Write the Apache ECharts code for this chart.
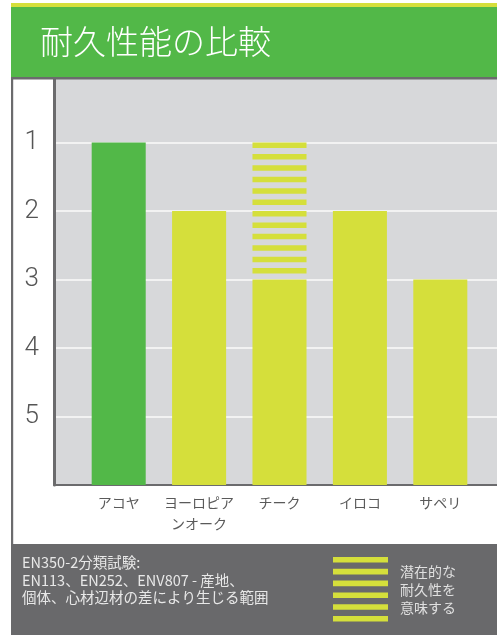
<!DOCTYPE html>
<html><head><meta charset="utf-8">
<script src="https://cdn.jsdelivr.net/npm/echarts/dist/echarts.min.js"></script>
<style>html,body{margin:0;padding:0;background:#fff}#c{width:497px;height:635px}</style>
</head><body><div id="c"></div>
<script>
// ---- data ----
const title = '耐久性能の比較';
const categories = ['アコヤ', 'ヨーロピア\nンオーク', 'チーク', 'イロコ', 'サペリ'];
const durability = [1, 2, 3, 2, 3];          // EN350-2 class (1 = best)
const potential = [null, null, 1, null, null]; // potential durability class
const yTickLabels = ['1', '2', '3', '4', '5'];
const footNote = 'EN350-2分類試験:\nEN113、EN252、ENV807 - 産地、\n個体、心材辺材の差により生じる範囲';
const legendText = '潜在的な\n耐久性を\n意味する';

// ---- style ----
const GREEN = '#52b848', YELLOW = '#d5df3b', PLOT_BG = '#d7d8da', FRAME = '#6b6b6d', FOOT = '#69696b';
const FONT = '"Noto Sans CJK JP", "Noto Sans", sans-serif';
const highlightIndex = 0;
const Y_MIN = 0, Y_MAX = 6;
const STRIPES_PER_CLASS = 6, STRIPE_FRAC = 0.48, BAR_FRAC = 0.672;

const chart = echarts.init(document.getElementById('c'), null, {renderer: 'canvas'});

function renderBar(params, api) {
  const i = api.value(0), v = api.value(1);
  const top = api.coord([i, v]);
  const base = api.coord([i, Y_MAX]);
  const w = api.size([1, 0])[0] * BAR_FRAC;
  return {type: 'rect', shape: {x: top[0] - w / 2, y: top[1], width: w, height: base[1] - top[1]},
          style: {fill: api.visual('color')}};
}
function renderStripes(params, api) {
  const i = api.value(0), from = api.value(1), to = api.value(2);
  const w = api.size([1, 0])[0] * BAR_FRAC;
  const children = [];
  const n = Math.round((to - from) * STRIPES_PER_CLASS);
  for (let k = 0; k < n; k++) {
    const a = api.coord([i, from + k / STRIPES_PER_CLASS]);
    const b = api.coord([i, from + (k + STRIPE_FRAC) / STRIPES_PER_CLASS]);
    children.push({type: 'rect', shape: {x: a[0] - w / 2, y: a[1], width: w, height: b[1] - a[1]}, style: {fill: YELLOW}});
  }
  return {type: 'group', children};
}

const barData = durability.map((v, i) => ({value: [i, v], itemStyle: {color: i === highlightIndex ? GREEN : YELLOW}}));
const stripeData = potential.map((p, i) => p == null ? null : [i, p, durability[i]]).filter(d => d);

const legendStripes = [];
for (let k = 0; k < 6; k++) legendStripes.push({type: 'rect', z: 102, shape: {x: 333, y: 557 + k * 11.8, width: 55, height: 5.6}, style: {fill: YELLOW}});

chart.setOption({
  animation: false,
  textStyle: {fontFamily: FONT},
  grid: [
    {left: 54, right: 0, top: 74, bottom: 150, show: true, backgroundColor: PLOT_BG, borderWidth: 0},
    {left: 78.5, width: 402, top: 74, bottom: 150}
  ],
  xAxis: [
    {gridIndex: 0, type: 'value', min: 0, max: 1, axisLine: {show: true, onZero: false, lineStyle: {color: FRAME, width: 2}},
     axisTick: {show: false}, axisLabel: {show: false}, splitLine: {show: false}},
    {gridIndex: 1, type: 'category', data: categories, axisLine: {show: false}, axisTick: {show: false},
     axisLabel: {interval: 0, color: '#5a5a5a', fontSize: 14, lineHeight: 21, margin: 7, fontFamily: FONT}}
  ],
  yAxis: [
    {gridIndex: 0, type: 'value', inverse: true, min: Y_MIN, max: Y_MAX, interval: 1,
     axisLine: {show: true, onZero: false, lineStyle: {color: FRAME, width: 3}}, axisTick: {show: false},
     axisLabel: {margin: 15, color: '#555', fontSize: 26, fontFamily: 'Roboto, sans-serif', fontWeight: 300,
                 formatter: v => (v >= 1 && v <= yTickLabels.length) ? yTickLabels[v - 1] : ''},
     splitLine: {show: true, lineStyle: {color: '#f2f2f2', width: 2}}},
    {gridIndex: 1, type: 'value', inverse: true, min: Y_MIN, max: Y_MAX, show: false}
  ],
  series: [
    {type: 'custom', xAxisIndex: 1, yAxisIndex: 1, renderItem: renderBar, data: barData, encode: {x: 0, y: 1}},
    {type: 'custom', xAxisIndex: 1, yAxisIndex: 1, renderItem: renderStripes, data: stripeData, encode: {x: 0, y: [1, 2]}}
  ],
  graphic: [
    {type: 'rect', z: 100, shape: {x: 11, y: 3, width: 486, height: 4}, style: {fill: YELLOW}},
    {type: 'rect', z: 100, shape: {x: 11, y: 7, width: 486, height: 70}, style: {fill: GREEN}},
    {type: 'rect', z: 100, shape: {x: 11, y: 77, width: 486, height: 2.5}, style: {fill: FRAME}},
    {type: 'rect', z: 100, shape: {x: 11, y: 77, width: 2.2, height: 468}, style: {fill: FRAME}},
    {type: 'text', z: 101, x: 40, y: 41, style: {text: title, fill: '#fff', font: '300 33px ' + FONT, textVerticalAlign: 'middle'}},
    {type: 'rect', z: 100, shape: {x: 11, y: 544, width: 486, height: 91}, style: {fill: FOOT}},
    {type: 'text', z: 101, x: 22, y: 554, style: {text: footNote, fill: '#e8e8e8', font: '14.5px ' + FONT, lineHeight: 17.5}},
    ...legendStripes,
    {type: 'text', z: 101, x: 400, y: 563, style: {text: legendText, fill: '#e0e0e0', font: '14px ' + FONT, lineHeight: 18}}
  ]
});
</script>
</body></html>
